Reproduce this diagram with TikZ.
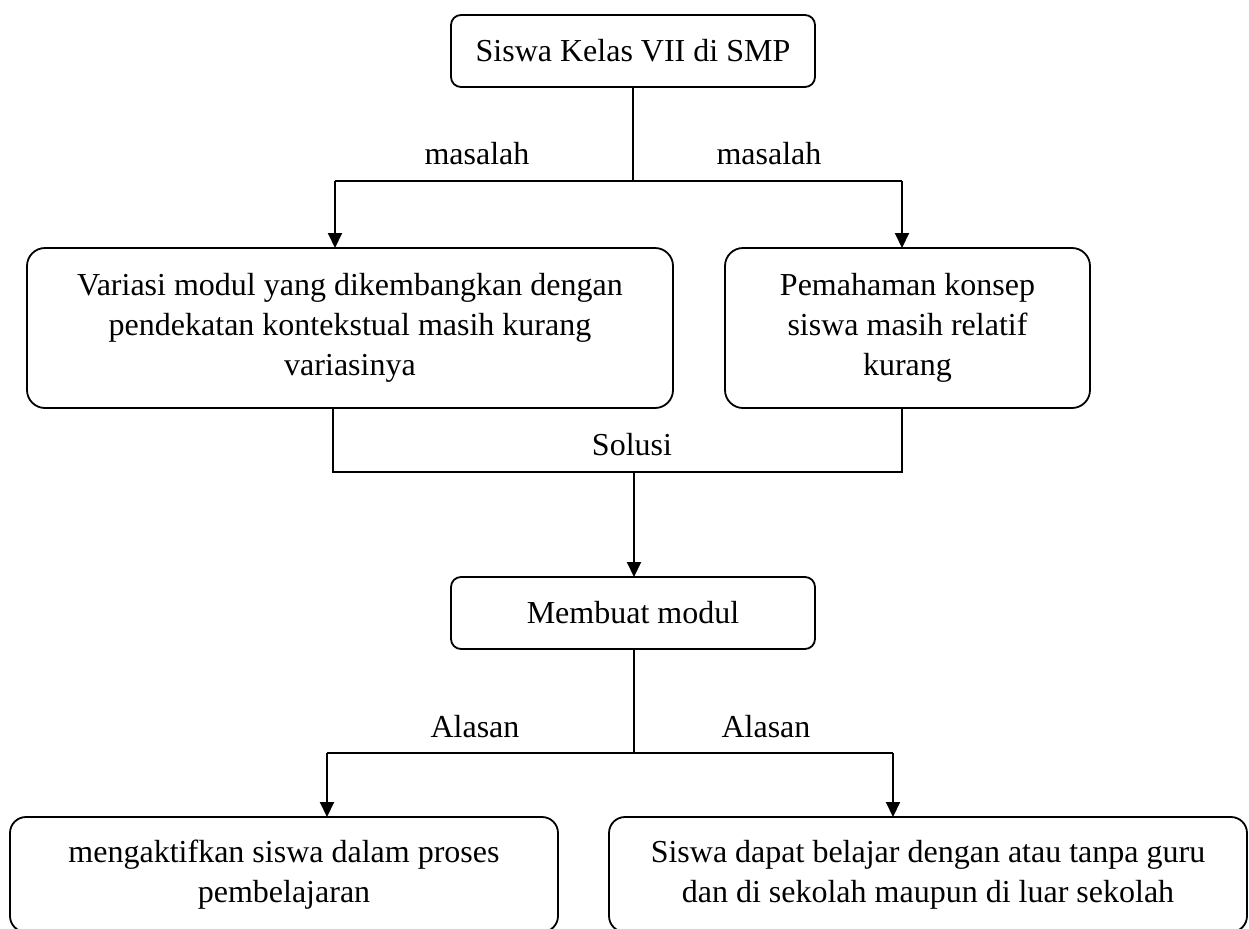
\documentclass[tikz,border=0pt]{standalone}
\usepackage{fontspec}
\setmainfont{Liberation Serif}
\usetikzlibrary{arrows.meta}
\begin{document}
\fontsize{16}{20}\selectfont
\begin{tikzpicture}[x=0.5pt, y=-0.5pt,
        box/.style={draw, line width=0.9pt, align=center, inner sep=0pt, outer sep=0pt},
        line/.style={line width=0.9pt},
        arr/.style={line width=1pt, -{Triangle[width=7pt, length=7.5pt]}}]
        \useasboundingbox (0, 0) rectangle (1249, 928);

        % top
        \node[box, rounded corners=5pt, minimum width=182pt, minimum height=36pt] (siswa) at (633, 51) {Siswa Kelas VII di SMP};
        \coordinate (mid1) at (633, 181);
        \coordinate (left1) at (335, 181);
        \coordinate (right1) at (902, 181);
        \draw[line] (siswa.south) -- (mid1);
        \draw[line] (left1) -- (right1);
        \node (masalahA) at (477, 154) {masalah};
        \node (masalahB) at (769, 154) {masalah};

        % problems
        \node[box, rounded corners=9pt, minimum width=323pt, minimum height=80pt] (variasi) at (350, 328) {Variasi modul yang dikembangkan dengan\\ pendekatan kontekstual masih kurang\\ variasinya};
        \node[box, rounded corners=9pt, minimum width=182.5pt, minimum height=80pt] (paham) at (907.5, 328) {Pemahaman konsep\\ siswa masih relatif\\ kurang};
        \draw[arr] (left1) -- (left1 |- variasi.north);
        \draw[arr] (right1) -- (right1 |- paham.north);

        % solusi
        \coordinate (left2) at (333, 472);
        \coordinate (right2) at (902, 472);
        \coordinate (mid2) at (634, 472);
        \draw[line] (left2 |- variasi.south) -- (left2) -- (right2) -- (right2 |- paham.south);
        \node (solusi) at (632, 445) {Solusi};

        % modul
        \node[box, rounded corners=5pt, minimum width=182pt, minimum height=36pt] (modul) at (633, 613) {Membuat modul};
        \draw[arr] (mid2) -- (mid2 |- modul.north);

        % alasan
        \coordinate (mid3) at (634, 753);
        \coordinate (left3) at (327, 753);
        \coordinate (right3) at (893, 753);
        \draw[line] (mid3 |- modul.south) -- (mid3);
        \draw[line] (left3) -- (right3);
        \node (alasanA) at (475, 727) {Alasan};
        \node (alasanB) at (766, 727) {Alasan};

        % reasons
        \node[box, rounded corners=8pt, minimum width=274pt, minimum height=57.5pt] (aktif) at (284, 874.5) {mengaktifkan siswa dalam proses\\ pembelajaran};
        \node[box, rounded corners=8pt, minimum width=319pt, minimum height=57.5pt] (belajar) at (928, 874.5) {Siswa dapat belajar dengan atau tanpa guru\\ dan di sekolah maupun di luar sekolah};
        \draw[arr] (left3) -- (left3 |- aktif.north);
        \draw[arr] (right3) -- (right3 |- belajar.north);
\end{tikzpicture}
\end{document}
